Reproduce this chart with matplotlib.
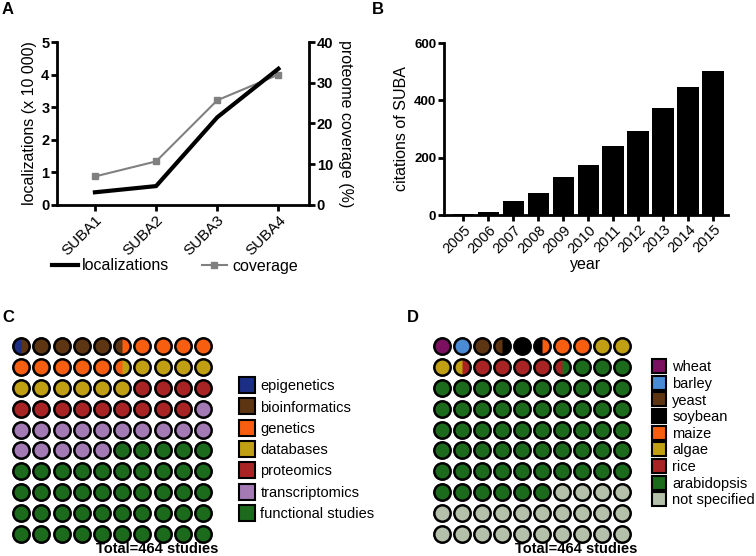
import numpy as np
import matplotlib
matplotlib.use('Agg')
import matplotlib.pyplot as plt
from matplotlib.lines import Line2D

plt.rcParams['font.family'] = ['Liberation Sans', 'DejaVu Sans']

# panel A
versions = ['SUBA1', 'SUBA2', 'SUBA3', 'SUBA4']
localizations = [0.39, 0.58, 2.69, 4.18]   # x 10 000
coverage = [7.0, 10.7, 25.7, 32.0]         # % of proteome

# panel B
years = [2005, 2006, 2007, 2008, 2009, 2010, 2011, 2012, 2013, 2014, 2015]
citations = [3, 10, 50, 78, 132, 174, 240, 292, 374, 448, 503]

# panel C (percent of studies, one circle = 1 %)
study_types = ['epigenetics', 'bioinformatics', 'genetics', 'databases',
               'proteomics', 'transcriptomics', 'functional studies']
study_pct = [0.5, 5, 10, 10.5, 13, 16, 45]
study_colors = ['#1b2f86', '#5e3512', '#f75e10', '#c0a012', '#a82424',
                '#a47ab5', '#1c6a1c']

# panel D
organisms = ['wheat', 'barley', 'yeast', 'soybean', 'maize', 'algae',
             'rice', 'arabidopsis', 'not specified']
organism_pct = [1, 1, 1.5, 2, 2.5, 3.5, 5, 59.5, 24]
organism_colors = ['#7b1060', '#4a8bd6', '#5e3512', '#000000', '#f75e10',
                   '#c0a012', '#a82424', '#1c6a1c', '#b4c0aa']

total_studies = 464

W, H = 756, 556
fig = plt.figure(figsize=(W / 100, H / 100), dpi=100)


def px_axes(left, top, right, bottom):
    return fig.add_axes([left / W, 1 - bottom / H, (right - left) / W, (bottom - top) / H])


def style_axis(ax, spines=('left', 'bottom')):
    for name, sp in ax.spines.items():
        sp.set_visible(name in spines)
        sp.set_linewidth(2)
    ax.tick_params(width=2, length=4, direction='out', pad=1.5)


def waffle(ax, pct, colors, ncols=10, nrows=10, ms=11.8):
    # every circle is split in two halves, so half-percent steps are possible
    halves = []
    for p, c in zip(pct, colors):
        halves += [c] * int(round(p * 2))
    n = nrows * ncols
    cols = [i % ncols for i in range(n)]
    rows = [i // ncols for i in range(n)]
    for i in range(n):
        left, right = halves[2 * i], halves[2 * i + 1]
        ax.plot(cols[i], rows[i], 'o', ms=ms, mew=0, mfc=right, clip_on=False)
        if left != right:
            ax.plot(cols[i], rows[i], 'o', ms=ms, mew=0, fillstyle='left',
                    mfc=left, markerfacecoloralt='none', clip_on=False)
    ax.plot(cols, rows, 'o', ls='none', ms=ms, mew=1.8, mec='black',
            mfc='none', clip_on=False)
    ax.set_xlim(-0.5, ncols - 0.5)
    ax.set_ylim(nrows - 0.5, -0.5)
    ax.axis('off')


# ---- A
ax = px_axes(57, 42, 309, 205)
x = np.arange(len(versions))
ax.plot(x, localizations, color='black', lw=3, zorder=3)
ax.set_xlim(-0.62, 3.5)
ax.set_ylim(0, 5)
ax.set_xticks(x)
ax.set_xticklabels(versions, rotation=45, ha='right', rotation_mode='anchor', fontsize=11)
ax.set_yticks(range(6))
for t in ax.get_yticklabels():
    t.set_fontweight('bold')
    t.set_fontsize(10.5)
ax.set_ylabel('localizations (x 10 000)', fontsize=11.5, labelpad=3)
style_axis(ax)

ax2 = ax.twinx()
ax2.plot(x, coverage, color='#808080', lw=1.5, marker='s', ms=5)
ax2.set_ylim(0, 40)
ax2.set_yticks(range(0, 41, 10))
for t in ax2.get_yticklabels():
    t.set_fontweight('bold')
    t.set_fontsize(10.5)
ax2.set_ylabel('proteome coverage (%)', fontsize=11.5, rotation=-90, labelpad=14)
style_axis(ax2, spines=('right',))
ax.set_zorder(ax2.get_zorder() + 1)
ax.patch.set_visible(False)

handles = [Line2D([], [], color='black', lw=3),
           Line2D([], [], color='#808080', lw=1.5, marker='s', ms=5)]
fig.legend(handles, ['localizations', 'coverage'], loc='center left',
           bbox_to_anchor=(52 / W, 1 - 266 / H), ncol=2, frameon=False,
           fontsize=11.5, columnspacing=2.0, handlelength=1.6, handletextpad=0.3,
           borderpad=0, borderaxespad=0)

# ---- B
bx = px_axes(444, 43, 728, 215)
pos = np.arange(len(years))
bx.bar(pos, citations, width=0.87, color='black')
bx.set_xlim(-0.78, 10.59)
bx.set_ylim(0, 600)
bx.set_xticks(pos)
bx.set_xticklabels([str(y) for y in years], rotation=45, ha='right',
                   rotation_mode='anchor', fontsize=10.5)
bx.set_yticks(range(0, 601, 200))
for t in bx.get_yticklabels():
    t.set_fontweight('bold')
    t.set_fontsize(9.5)
bx.set_ylabel('citations of SUBA', fontsize=11.5, labelpad=4)
bx.set_xlabel('year', fontsize=11.5, labelpad=1)
style_axis(bx)

# ---- C
cx = px_axes(11, 336, 213, 544)
waffle(cx, study_pct, study_colors)
handles = [Line2D([], [], ls='none', marker='s', ms=11, mfc=c, mec='black', mew=1.5)
           for c in study_colors]
fig.legend(handles, study_types, loc='upper left',
           bbox_to_anchor=(232 / W, 1 - 372 / H), frameon=False, fontsize=10.5,
           labelspacing=0.5, handlelength=1, handletextpad=0.45, borderpad=0)
fig.text(218 / W, 1 - 549 / H, f'Total={total_studies} studies', ha='right',
         va='center', fontsize=10.5, fontweight='bold')

# ---- D
dx = px_axes(432, 336, 632, 544)
waffle(dx, organism_pct, organism_colors)
handles = [Line2D([], [], ls='none', marker='s', ms=10, mfc=c, mec='black', mew=1.5)
           for c in organism_colors]
fig.legend(handles, organisms, loc='upper left',
           bbox_to_anchor=(644 / W, 1 - 353 / H), frameon=False, fontsize=10.5,
           labelspacing=0.18, handlelength=1, handletextpad=0.45, borderpad=0)
fig.text(637 / W, 1 - 549 / H, f'Total={total_studies} studies', ha='right',
         va='center', fontsize=10.5, fontweight='bold')

# panel letters
for letter, px, py in [('A', 8, 9), ('B', 378, 9), ('C', 8, 318), ('D', 413, 318)]:
    fig.text(px / W, 1 - py / H, letter, fontsize=12, fontweight='bold',
             ha='center', va='center')

fig.savefig('out.png', dpi=100)
